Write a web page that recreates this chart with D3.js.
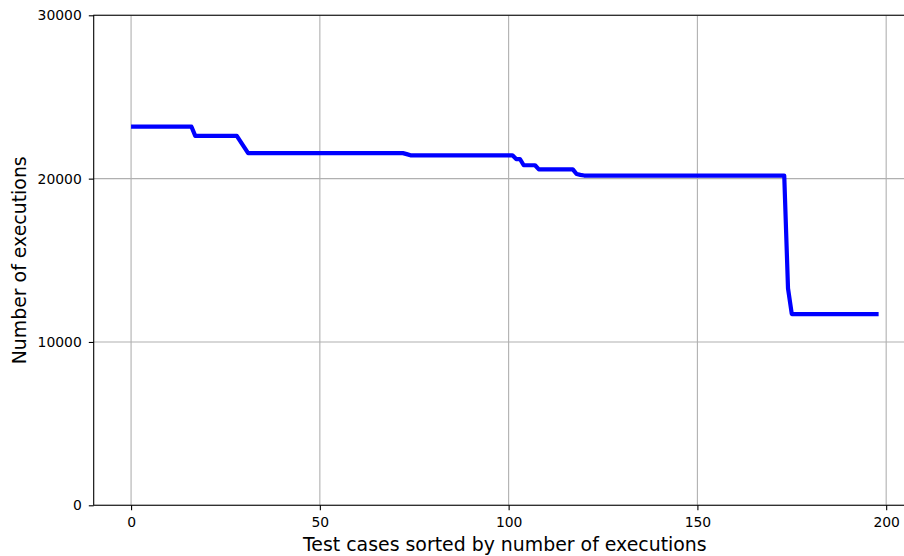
<!DOCTYPE html>
<html lang="en">
<head>
    <meta charset="UTF-8">
    <title>Number of executions</title>
    <script src="https://cdn.jsdelivr.net/npm/d3@7/dist/d3.min.js" charset="utf-8"></script>
    <style>
        html, body { margin: 0; padding: 0; background: #fff; overflow: hidden; }
        svg { display: block; }
        text { font-family: "DejaVu Sans", sans-serif; }
    </style>
</head>
<body>

    <script>

        // executions per test case, index 0..198
        var executions = [
            23180, 23180, 23180, 23180, 23180, 23180, 23180, 23180, 23180, 23180,
            23180, 23180, 23180, 23180, 23180, 23180, 23180, 22620, 22620, 22620,
            22620, 22620, 22620, 22620, 22620, 22620, 22620, 22620, 22620, 22260,
            21910, 21560, 21560, 21560, 21560, 21560, 21560, 21560, 21560, 21560,
            21560, 21560, 21560, 21560, 21560, 21560, 21560, 21560, 21560, 21560,
            21560, 21560, 21560, 21560, 21560, 21560, 21560, 21560, 21560, 21560,
            21560, 21560, 21560, 21560, 21560, 21560, 21560, 21560, 21560, 21560,
            21560, 21560, 21560, 21500, 21430, 21430, 21430, 21430, 21430, 21430,
            21430, 21430, 21430, 21430, 21430, 21430, 21430, 21430, 21430, 21430,
            21430, 21430, 21430, 21430, 21430, 21430, 21430, 21430, 21430, 21430,
            21430, 21430, 21200, 21200, 20820, 20820, 20820, 20820, 20570, 20570,
            20570, 20570, 20570, 20570, 20570, 20570, 20570, 20570, 20280, 20230,
            20190, 20190, 20190, 20190, 20190, 20190, 20190, 20190, 20190, 20190,
            20190, 20190, 20190, 20190, 20190, 20190, 20190, 20190, 20190, 20190,
            20190, 20190, 20190, 20190, 20190, 20190, 20190, 20190, 20190, 20190,
            20190, 20190, 20190, 20190, 20190, 20190, 20190, 20190, 20190, 20190,
            20190, 20190, 20190, 20190, 20190, 20190, 20190, 20190, 20190, 20190,
            20190, 20190, 20190, 20190, 13280, 11710, 11710, 11710, 11710, 11710,
            11710, 11710, 11710, 11710, 11710, 11710, 11710, 11710, 11710, 11710,
            11710, 11710, 11710, 11710, 11710, 11710, 11710, 11710, 11710
        ];

        // tick values
        var xTicks = [0, 50, 100, 150, 200];
        var yTicks = [0, 10000, 20000, 30000];

        var xLabel = "Test cases sorted by number of executions";
        var yLabel = "Number of executions";

        // 画布
        var width = 904;
        var height = 556;
        // the right spine lies past the picture edge, as in the original
        var plotLeft = 93.7, plotTop = 15.3, plotRight = 916, plotBottom = 505.3;

        var svg = d3.select("body")
            .append("svg")
            .attr("width", width)
            .attr("height", height);

        // matplotlib style 5% margin on x
        var n = executions.length - 1;
        var x = d3.scaleLinear()
            .domain([-0.05 * n, n * 1.05])
            .range([plotLeft, plotRight]);
        var y = d3.scaleLinear()
            .domain([0, 30000])
            .range([plotBottom, plotTop]);

        // grid
        svg.append("g")
            .selectAll("line")
            .data(xTicks)
            .enter()
            .append("line")
            .attr("x1", function (d) { return x(d); })
            .attr("x2", function (d) { return x(d); })
            .attr("y1", plotTop)
            .attr("y2", plotBottom)
            .attr("stroke", "#b0b0b0")
            .attr("stroke-width", 1.1);

        svg.append("g")
            .selectAll("line")
            .data(yTicks)
            .enter()
            .append("line")
            .attr("x1", plotLeft)
            .attr("x2", plotRight)
            .attr("y1", function (d) { return y(d); })
            .attr("y2", function (d) { return y(d); })
            .attr("stroke", "#b0b0b0")
            .attr("stroke-width", 1.1);

        // the line
        var line = d3.line()
            .x(function (d, i) { return x(i); })
            .y(function (d) { return y(d); });

        svg.append("path")
            .datum(executions)
            .attr("d", line)
            .attr("fill", "none")
            .attr("stroke", "#0000ff")
            .attr("stroke-width", 4.2)
            .attr("stroke-linejoin", "round");

        // axes
        var xAxis = svg.append("g")
            .attr("transform", "translate(0," + plotBottom + ")")
            .call(d3.axisBottom(x).tickValues(xTicks).tickSize(4.9).tickPadding(4.9).tickSizeOuter(0));
        var yAxis = svg.append("g")
            .attr("transform", "translate(" + plotLeft + ",0)")
            .call(d3.axisLeft(y).tickValues(yTicks).tickSize(4.9).tickPadding(7).tickSizeOuter(0)
                .tickFormat(d3.format("d")));

        [xAxis, yAxis].forEach(function (g) {
            g.select(".domain").remove();
            g.selectAll(".tick line").attr("stroke", "#000").attr("stroke-width", 1.1);
            g.selectAll(".tick text")
                .attr("fill", "#000")
                .style("font-size", "13.9px")
                .style("font-family", "DejaVu Sans, sans-serif");
        });
        xAxis.selectAll(".tick text").attr("y", 22).attr("dy", 0);

        // spines: left, top, bottom only (right is off the picture)
        svg.append("path")
            .attr("d", "M" + plotRight + "," + plotTop + "H" + plotLeft + "V" + plotBottom + "H" + plotRight)
            .attr("fill", "none")
            .attr("stroke", "#000")
            .attr("stroke-width", 1.1);

        // 轴标签
        svg.append("text")
            .attr("x", (plotLeft + plotRight) / 2)
            .attr("y", 550.5)
            .attr("text-anchor", "middle")
            .style("font-size", "18.9px")
            .text(xLabel);

        svg.append("text")
            .attr("transform", "translate(26," + (plotTop + plotBottom) / 2 + ") rotate(-90)")
            .attr("text-anchor", "middle")
            .style("font-size", "18.9px")
            .text(yLabel);

    </script>
</body>
</html>
